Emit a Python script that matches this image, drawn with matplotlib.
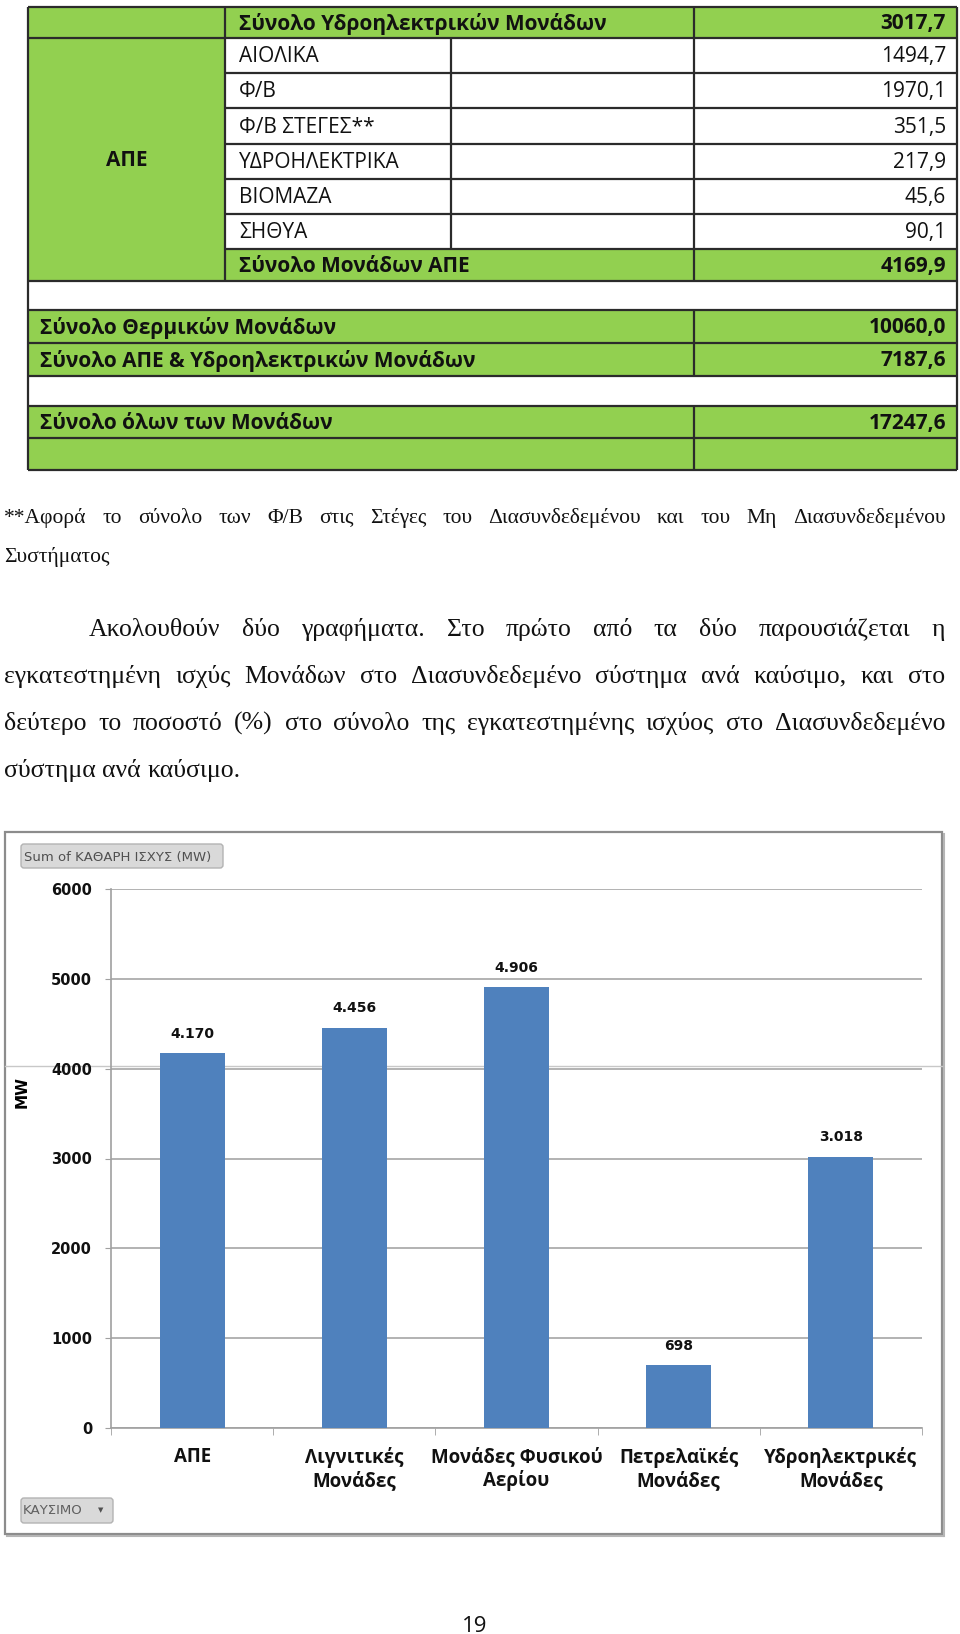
import matplotlib
matplotlib.use("Agg")
from matplotlib import pyplot as plt
from matplotlib import font_manager
from matplotlib.patches import Rectangle, FancyBboxPatch

# ---- table data ----
hydro_total_label = "Σύνολο Υδροηλεκτρικών Μονάδων"
hydro_total = 3017.7
ape_group = "ΑΠΕ"
ape_labels = ["ΑΙΟΛΙΚΑ", "Φ/Β", "Φ/Β ΣΤΕΓΕΣ**", "ΥΔΡΟΗΛΕΚΤΡΙΚΑ", "ΒΙΟΜΑΖΑ", "ΣΗΘΥΑ"]
ape_values = [1494.7, 1970.1, 351.5, 217.9, 45.6, 90.1]
ape_total_label = "Σύνολο Μονάδων ΑΠΕ"
ape_total = 4169.9
sum_labels = ["Σύνολο Θερμικών Μονάδων", "Σύνολο ΑΠΕ & Υδροηλεκτρικών Μονάδων",
              "Σύνολο όλων των Μονάδων"]
sum_values = [10060.0, 7187.6, 17247.6]

footnote = ["**Αφορά το σύνολο των Φ/Β στις Στέγες του Διασυνδεδεμένου και του Μη Διασυνδεδεμένου",
            "Συστήματος"]
paragraph = ["Ακολουθούν δύο γραφήματα. Στο πρώτο από τα δύο παρουσιάζεται η",
             "εγκατεστημένη ισχύς Μονάδων στο Διασυνδεδεμένο σύστημα ανά καύσιμο, και στο",
             "δεύτερο το ποσοστό (%) στο σύνολο της εγκατεστημένης ισχύος στο Διασυνδεδεμένο",
             "σύστημα ανά καύσιμο."]

# ---- chart data ----
fuels = ["ΑΠΕ", "Λιγνιτικές\nΜονάδες", "Μονάδες Φυσικού\nΑερίου",
         "Πετρελαϊκές\nΜονάδες", "Υδροηλεκτρικές\nΜονάδες"]
mw = [4170, 4456, 4906, 698, 3018]
yticks = [0, 1000, 2000, 3000, 4000, 5000, 6000]
series_button = "Sum of ΚΑΘΑΡΗ ΙΣΧΥΣ (MW)"
axis_button = "ΚΑΥΣΙΜΟ"
page_no = "19"

names = {f.name for f in font_manager.fontManager.ttflist}
def pick(*cands):
    for c in cands:
        if c in names:
            return c
    return "DejaVu Sans"

sans = pick("Open Sans", "Noto Sans", "DejaVu Sans")
narrow = pick("Liberation Sans Narrow", "Open Sans", "DejaVu Sans")
serif = pick("Liberation Serif", "DejaVu Serif")

def fmt_dec(v):
    return f"{v:.1f}".replace(".", ",")

GREEN = "#92D050"
LINE = "#2b2b2b"

fig = plt.figure(figsize=(9.6, 16.34), dpi=100)
bg = fig.add_axes([0, 0, 1, 1])
bg.set_xlim(0, 960)
bg.set_ylim(1634, 0)
bg.axis("off")

# ---- table ----
X0, C1, C2, C3, X1 = 28, 225, 451, 694, 957
ys = [7, 38, 73, 108, 144, 179, 214, 249, 281, 310, 343, 376, 406, 438, 470]

def fill(x0, y0, x1, y1, c=GREEN):
    bg.add_patch(Rectangle((x0, y0), x1 - x0, y1 - y0, facecolor=c, edgecolor="none"))

fill(X0, ys[0], X1, ys[1])
fill(X0, ys[1], C1, ys[8])
fill(C1, ys[7], X1, ys[8])
fill(X0, ys[9], X1, ys[11])
fill(X0, ys[12], X1, ys[14])

def hline(y, x0=X0, x1=X1):
    bg.plot([x0, x1], [y, y], color=LINE, lw=1.6, solid_capstyle="butt")

def vline(x, y0, y1):
    bg.plot([x, x], [y0, y1], color=LINE, lw=1.6, solid_capstyle="butt")

for i, y in enumerate(ys):
    if 2 <= i <= 7:
        hline(y, C1)
    else:
        hline(y)
vline(X0, ys[0], ys[-1])
vline(X1, ys[0], ys[-1])
vline(C1, ys[0], ys[8])
vline(C2, ys[1], ys[7])
vline(C3, ys[0], ys[8])
vline(C3, ys[9], ys[11])
vline(C3, ys[12], ys[14])

TS = 15
VX = 946
def cell(x, y, s, ha="left", bold=False):
    bg.text(x, y, s, ha=ha, va="center", fontsize=TS, family=[sans, "DejaVu Sans"],
            fontweight="bold" if bold else "normal", color="#111111")

mid = lambda a, b: (a + b) / 2 + 1
cell(239, mid(ys[0], ys[1]), hydro_total_label, bold=True)
cell(VX, mid(ys[0], ys[1]), fmt_dec(hydro_total), ha="right", bold=True)
cell((X0 + C1) / 2, mid(ys[1], ys[8]), ape_group, ha="center", bold=True)
for i, (lab, v) in enumerate(zip(ape_labels, ape_values)):
    cell(239, mid(ys[i + 1], ys[i + 2]), lab)
    cell(VX, mid(ys[i + 1], ys[i + 2]), fmt_dec(v), ha="right")
cell(239, mid(ys[7], ys[8]), ape_total_label, bold=True)
cell(VX, mid(ys[7], ys[8]), fmt_dec(ape_total), ha="right", bold=True)
for (r0, r1), lab, v in zip([(9, 10), (10, 11), (12, 13)], sum_labels, sum_values):
    cell(40, mid(ys[r0], ys[r1]), lab, bold=True)
    cell(VX, mid(ys[r0], ys[r1]), fmt_dec(v), ha="right", bold=True)

# ---- justified text ----
renderer = fig.canvas.get_renderer()

def put_line(text, x0, x1, y, size, justify=True):
    words = text.split()
    arts = [bg.text(0, y, w, fontsize=size, family=[serif, "DejaVu Serif"],
                    va="baseline", ha="left", color="#111111") for w in words]
    widths = [a.get_window_extent(renderer).width for a in arts]
    if justify and len(words) > 1:
        gap = (x1 - x0 - sum(widths)) / (len(words) - 1)
    else:
        gap = size * 100 / 72 * 0.25
    x = x0
    for a, w in zip(arts, widths):
        a.set_x(x)
        x += w + gap

put_line(footnote[0], 4, 946, 523, 15.5)
put_line(footnote[1], 4, 946, 562, 15.5, justify=False)
put_line(paragraph[0], 89, 945, 636, 18.5)
put_line(paragraph[1], 4, 945, 683, 18.5)
put_line(paragraph[2], 4, 945, 730, 18.5)
put_line(paragraph[3], 4, 945, 777, 18.5, justify=False)

# ---- chart frame ----
bg.add_patch(Rectangle((5, 832), 937, 702, facecolor="white", edgecolor="#8c8c8c", lw=1.6))
bg.plot([7, 943], [1536, 1536], color="#b5b5b5", lw=1.5)
bg.plot([943.5, 943.5], [834, 1536], color="#b5b5b5", lw=1.5)
bg.plot([5, 942], [1066, 1066], color="#c8c8c8", lw=1.0)

bg.add_patch(FancyBboxPatch((21, 844), 202, 24, boxstyle="round,pad=0,rounding_size=3",
                            facecolor="#d9d9d9", edgecolor="#b3b3b3", lw=1))
bg.text(24, 857, series_button, fontsize=9.5, color="#505050", va="center", ha="left",
        family=["DejaVu Sans"])
bg.add_patch(FancyBboxPatch((21, 1498), 92, 25, boxstyle="round,pad=0,rounding_size=3",
                            facecolor="#d9d9d9", edgecolor="#b3b3b3", lw=1))
bg.text(23, 1511, axis_button, fontsize=9.5, color="#606060", va="center", ha="left",
        family=["DejaVu Sans"])
bg.text(101, 1510, "▼", fontsize=5, color="#505050", va="center", ha="center",
        family=["DejaVu Sans"])

bg.text(475, 1632, page_no, fontsize=16, ha="center", va="baseline",
        family=[narrow, "DejaVu Sans"], color="#111111")

# ---- bar chart ----
ax = fig.add_axes([111 / 960, 1 - 1428 / 1634, (922 - 111) / 960, (1428 - 889) / 1634])
ax.patch.set_alpha(0)
x = list(range(len(fuels)))
ax.bar(x, mw, width=0.4, color="#4F81BD", zorder=3)
ax.set_xlim(-0.5, len(fuels) - 0.5)
ax.set_ylim(0, 6000)
ax.set_yticks(yticks)
ax.set_yticklabels([str(t) for t in yticks], fontweight="bold", fontsize=10.5,
                   family="DejaVu Sans", color="#111111")
ax.grid(axis="y", color="#a6a6a6", lw=1.2, zorder=0)
for s in ["top", "right"]:
    ax.spines[s].set_visible(False)
for s in ["left", "bottom"]:
    ax.spines[s].set_color("#a0a0a0")
    ax.spines[s].set_linewidth(1.2)
ax.tick_params(axis="y", length=4.5, color="#a0a0a0", pad=9)
ax.set_xticks(x)
ax.set_xticklabels(fuels, fontsize=13.5, fontweight="bold", family=[narrow, "DejaVu Sans"],
                   linespacing=1.15, color="#111111")
ax.set_xticks([i - 0.5 for i in range(len(fuels) + 1)], minor=True)
ax.tick_params(axis="x", which="major", length=0, pad=14)
ax.tick_params(axis="x", which="minor", length=5, color="#a0a0a0")
for xi, v in zip(x, mw):
    ax.annotate(f"{v:,}".replace(",", "."), (xi, v), xytext=(0, 9), textcoords="offset points",
                ha="center", va="bottom", fontsize=10, fontweight="bold",
                family="DejaVu Sans", color="#111111")

fig.text(22 / 960, 1 - 1092 / 1634, "MW", rotation=90, ha="center", va="center",
         fontsize=11, fontweight="bold", family="DejaVu Sans")

fig.savefig("out.png", dpi=100)
